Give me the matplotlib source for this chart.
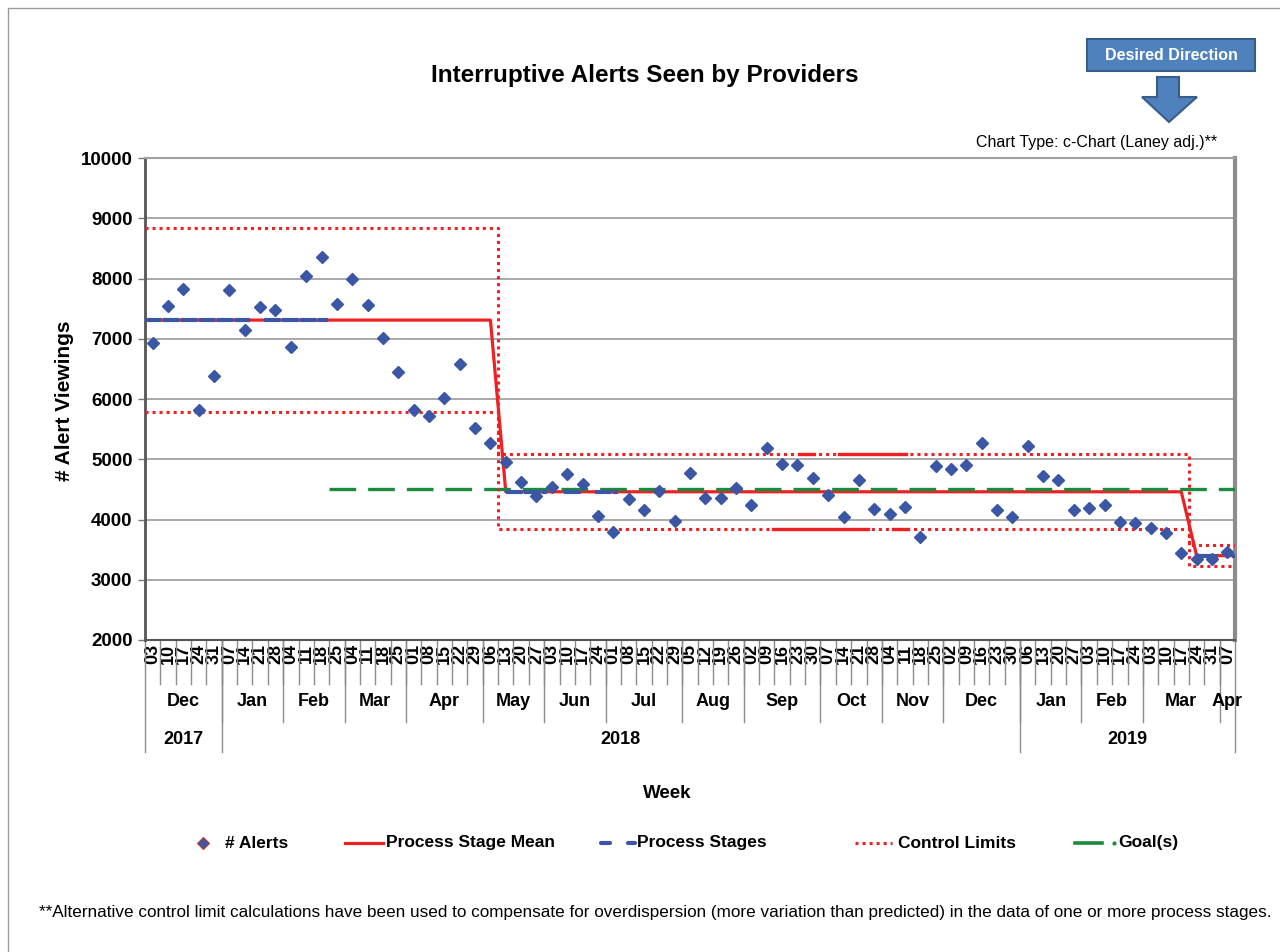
import matplotlib
matplotlib.use("Agg")
import matplotlib.pyplot as plt
from matplotlib.lines import Line2D
from matplotlib.patches import Rectangle, Polygon
import matplotlib.transforms as mtransforms

NARROW = ['Liberation Sans Narrow', 'Liberation Sans', 'DejaVu Sans']
REG = ['Liberation Sans', 'DejaVu Sans']
plt.rcParams['font.family'] = REG

# ---- data ----
weeks = ['03', '10', '17', '24', '31',
         '07', '14', '21', '28', '04', '11', '18', '25', '04', '11', '18', '25',
         '01', '08', '15', '22', '29', '06', '13', '20', '27', '03', '10', '17', '24',
         '01', '08', '15', '22', '29', '05', '12', '19', '26', '02', '09', '16', '23', '30',
         '07', '14', '21', '28', '04', '11', '18', '25', '02', '09', '16', '23', '30',
         '06', '13', '20', '27', '03', '10', '17', '24', '03', '10', '17', '24', '31', '07']
months = ['Dec', 'Jan', 'Feb', 'Mar', 'Apr', 'May', 'Jun', 'Jul', 'Aug', 'Sep',
          'Oct', 'Nov', 'Dec', 'Jan', 'Feb', 'Mar', 'Apr']
month_weeks = [5, 4, 4, 4, 5, 4, 4, 5, 4, 5, 4, 4, 5, 4, 4, 5, 1]
years = ['2017', '2018', '2019']
year_weeks = [5, 52, 14]

alerts = [6930, 7540, 7830, 5820, 6380, 7810, 7150, 7530, 7480, 6860,
          8040, 8360, 7580, 7990, 7560, 7010, 6450, 5820, 5720, 6020,
          6580, 5520, 5270, 4950, 4630, 4390, 4545, 4750, 4585, 4065,
          3800, 4335, 4160, 4480, 3980, 4770, 4365, 4365, 4530, 4240,
          5180, 4920, 4905, 4685, 4400, 4035, 4655, 4175, 4085, 4200,
          3715, 4890, 4840, 4900, 5265, 4160, 4045, 5220, 4720, 4655,
          4160, 4185, 4240, 3965, 3950, 3860, 3780, 3450, 3345, 3345, 3465]

stage_first = [0, 23, 68]
stage_last = [22, 67, 70]
stage_mean = [7310, 4460, 3400]
stage_ucl = [8835, 5080, 3580]
stage_lcl = [5780, 3840, 3230]
# spans (in week index) where the blue "process stages" line shows
stage_spans = [(-0.5, 6.35), (7.25, 11.4), (23, 25.7), (26.8, 27.9), (28.8, 30.3),
               (68, 69.4), (70.3, 70.5)]
# solid red bits on the stage 2 limits
ucl_marks = [(42.1, 43.1), (44.7, 49.1)]
lcl_marks = [(40.4, 46.6), (48.2, 49.2)]
goal = 4500
goal_start = 11.5

n = len(alerts)
x = list(range(n))

fig = plt.figure(figsize=(12.8, 9.52), dpi=100)
W, H = 1280.0, 952.0
ax = fig.add_axes([145 / W, 1 - 640 / H, (1235 - 145) / W, (640 - 158) / H])

RED = '#ee2024'
BLUE = '#3a56a5'
GREEN = '#1a8a3c'

# mean line: flat in each stage, sloping between stages
mx, my = [-0.5], [stage_mean[0]]
for k in range(len(stage_mean)):
    mx += [stage_first[k], stage_last[k]]
    my += [stage_mean[k], stage_mean[k]]
mx[1] = -0.5
mx.append(n - 0.5)
my.append(stage_mean[-1])
ax.plot(mx, my, color=RED, lw=2.3, zorder=3)

# process stages (blue dashes over the mean)
def mean_at(v):
    for k in range(len(stage_mean)):
        if stage_first[k] - 0.5 <= v <= stage_last[k] + 0.5:
            return stage_mean[k]
    return stage_mean[-1]

for a, b in stage_spans:
    ax.plot([a, b], [mean_at(a), mean_at(a)], color=BLUE, lw=3,
            linestyle=(0, (4.0, 0.3)), zorder=4)

# goal
ax.plot([goal_start, n - 0.5], [goal, goal], color=GREEN, lw=2.4,
        linestyle=(0, (8.0, 3.6)), zorder=3)

# control limits as steps
def step(vals):
    sx, sy = [], []
    for k in range(len(vals)):
        sx += [stage_first[k] - 0.5, stage_last[k] + 0.5]
        sy += [vals[k], vals[k]]
    return sx, sy

for vals in (stage_ucl, stage_lcl):
    sx, sy = step(vals)
    ax.plot(sx, sy, color=RED, lw=2.2, linestyle=(0, (1, 1.3)), zorder=3)
for a, b in ucl_marks:
    ax.plot([a, b], [stage_ucl[1]] * 2, color=RED, lw=2.4, zorder=3)
for a, b in lcl_marks:
    ax.plot([a, b], [stage_lcl[1]] * 2, color=RED, lw=2.4, zorder=3)

# alerts
ax.plot(x, alerts, linestyle='none', marker='D', markersize=6.3,
        color=BLUE, zorder=5)

ax.set_xlim(-0.5, n - 0.5)
ax.set_ylim(2000, 10000)
ax.set_yticks(range(2000, 10001, 1000))
ax.set_yticklabels([str(v) for v in range(2000, 10001, 1000)],
                   fontweight='bold', fontsize=13.5, family=REG)
ax.tick_params(axis='y', length=5, width=1, color='#777777', pad=4)
ax.yaxis.grid(True, color='#9a9a9a', lw=1.2)
ax.set_axisbelow(True)

ax.set_xticks(x)
ax.set_xticklabels(weeks, rotation=90, fontweight='bold', fontsize=13,
                   family=NARROW, va='top')
ax.tick_params(axis='x', length=0, pad=3)

ax.spines['left'].set_color('#555555')
ax.spines['left'].set_linewidth(2)
ax.spines['right'].set_color('#8c8c8c')
ax.spines['right'].set_linewidth(3)
ax.spines['top'].set_color('#a0a0a0')
ax.spines['top'].set_linewidth(1.5)
ax.spines['bottom'].set_color('#555555')
ax.spines['bottom'].set_linewidth(1.5)

# multi-level category axis
tr = mtransforms.blended_transform_factory(ax.transData, ax.transAxes)
ah = 640 - 158.0
for k in range(1, n):
    ax.plot([k - 0.5, k - 0.5], [0, -44 / ah], color='#8c8c8c', lw=1,
            transform=tr, clip_on=False)
pos = 0
for name, cnt in zip(months, month_weeks):
    ax.text(pos + (cnt - 1) / 2, -62 / ah, name, transform=tr, ha='center',
            va='center', fontweight='bold', fontsize=13, family=NARROW)
    pos += cnt
    if pos < n:
        ax.plot([pos - 0.5] * 2, [0, -82 / ah], color='#8c8c8c', lw=1,
                transform=tr, clip_on=False)
pos = 0
for name, cnt in zip(years, year_weeks):
    ax.text(pos + (cnt - 1) / 2, -100 / ah, name, transform=tr, ha='center',
            va='center', fontweight='bold', fontsize=13, family=NARROW)
    pos += cnt
    ax.plot([pos - 0.5] * 2, [0, -112 / ah], color='#8c8c8c', lw=1,
            transform=tr, clip_on=False)
ax.plot([-0.5] * 2, [0, -112 / ah], color='#8c8c8c', lw=1,
        transform=tr, clip_on=False)

# texts
fig.text(645 / W, 1 - 76 / H, 'Interruptive Alerts Seen by Providers',
         ha='center', va='center', fontsize=17.5, fontweight='bold', family=NARROW)
fig.text(1217 / W, 1 - 142 / H, 'Chart Type: c-Chart (Laney adj.)**',
         ha='right', va='center', fontsize=11.5, family=NARROW)
fig.text(65 / W, 1 - 401 / H, '# Alert Viewings', rotation=90, ha='center',
         va='center', fontsize=15, fontweight='bold', family=REG)
fig.text(667 / W, 1 - 793 / H, 'Week', ha='center', va='center',
         fontsize=13.5, fontweight='bold', family=NARROW)
fig.text(655 / W, 1 - 913 / H,
         '**Alternative control limit calculations have been used to compensate for '
         'overdispersion (more variation than predicted) in the data of one or more '
         'process stages.', ha='center', va='center', fontsize=12.3, family=REG)

# desired direction box + arrow
fig.add_artist(Rectangle((1087 / W, 1 - 71 / H), 168 / W, 32 / H,
                         transform=fig.transFigure, facecolor='#4f81bd',
                         edgecolor='#385d8a', lw=1.5))
fig.text(1171 / W, 1 - 55 / H, 'Desired Direction', ha='center', va='center',
         color='white', fontsize=11.5, fontweight='bold', family=NARROW)
arrow_px = [(1157, 77), (1179, 77), (1179, 97), (1197, 97), (1169, 122),
            (1142, 97), (1157, 97)]
fig.add_artist(Polygon([(px / W, 1 - py / H) for px, py in arrow_px], closed=True,
                       transform=fig.transFigure, facecolor='#4f81bd',
                       edgecolor='#385d8a', lw=1.5))

# legend (drawn by hand to keep Excel spacing)
ly = 1 - 843 / H
def fl(xs, **kw):
    fig.add_artist(Line2D([v / W for v in xs], [ly] * len(xs),
                          transform=fig.transFigure, **kw))
def ft(px, s):
    fig.text(px / W, ly, s, ha='left', va='center', fontsize=12.5,
             fontweight='bold', family=NARROW)

fl([203], marker='D', markersize=6.3, color=BLUE, markeredgecolor='#c0392b',
   markeredgewidth=0.8, linestyle='none')
ft(225, '# Alerts')
fl([345, 383], color=RED, lw=2.3)
ft(386, 'Process Stage Mean')
fl([601, 610], color=BLUE, lw=3, solid_capstyle='round')
fl([628, 635], color=BLUE, lw=3, solid_capstyle='round')
ft(637, 'Process Stages')
fl([855, 892], color=RED, lw=2.2, linestyle=(0, (1, 1.3)))
ft(898, 'Control Limits')
fl([1075, 1102], color=GREEN, lw=2.6)
fl([1114], color=GREEN, marker='o', markersize=2, linestyle='none')
ft(1118, 'Goal(s)')

# outer frame
fig.add_artist(Rectangle((8 / W, -0.05), 1.1, 1 - 8 / H + 0.05,
                         transform=fig.transFigure, fill=False,
                         edgecolor='#9a9a9a', lw=1))

fig.savefig('out.png', dpi=100)
